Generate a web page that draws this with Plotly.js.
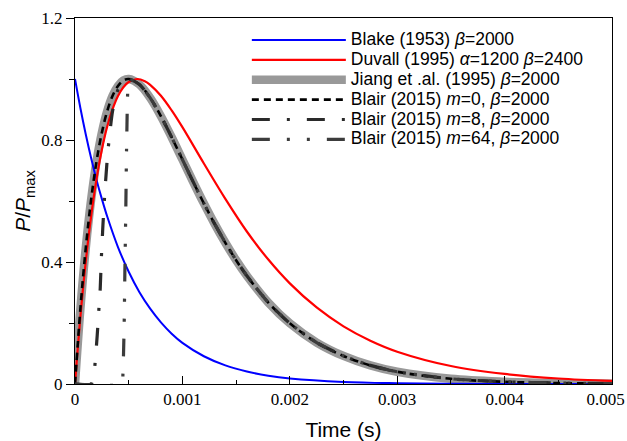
<!DOCTYPE html>
<html>
<head>
<meta charset="utf-8">
<script src="https://cdn.plot.ly/plotly-3.0.1.min.js"></script>
<style>html,body{margin:0;padding:0;background:#fff;}#chart{width:627px;height:441px;}</style>
</head>
<body>
<div id="chart"></div>
<script>
// ---- data (time in s, P/Pmax) ----
var blakeT = [0,0.00005,0.0001,0.00015,0.0002,0.00025,0.0003,0.0004,0.0005,0.0006,0.0007,0.0008,0.0009,0.001,0.0012,0.0014,0.0016,0.0018,0.002,0.0025,0.003,0.0035,0.004,0.0045,0.005];
var blakeP = [1,0.905,0.819,0.741,0.670,0.607,0.549,0.449,0.368,0.301,0.247,0.202,0.165,0.135,0.091,0.061,0.041,0.027,0.018,0.0067,0.0025,0.0009,0.0003,0.0001,0.00005];

var duvallT = [0,0.00005,0.0001,0.00015,0.0002,0.00025,0.0003,0.00035,0.0004,0.00045,0.0005,0.000578,0.00065,0.0007,0.0008,0.0009,0.001,0.0012,0.0014,0.0016,0.0018,0.002,0.00225,0.0025,0.00275,0.003,0.0035,0.004,0.0045,0.005];
var duvallP = [0,0.219,0.401,0.550,0.671,0.768,0.844,0.901,0.944,0.973,0.990,1.0,0.993,0.981,0.945,0.897,0.842,0.723,0.607,0.500,0.408,0.330,0.251,0.189,0.142,0.106,0.059,0.033,0.018,0.010];

var jiangRiseT = [0,0.00005,0.0001,0.00015,0.0002,0.00025,0.0003,0.00035,0.0004,0.00045,0.0005];
var jiangRiseP = [0,0.246,0.445,0.604,0.729,0.824,0.895,0.945,0.977,0.995,1];

var decayT = [0.0006,0.0007,0.0008,0.0009,0.001,0.0011,0.0012,0.0013,0.0014,0.0015,0.0016,0.0018,0.002,0.00225,0.0025,0.00275,0.003,0.0035,0.004,0.0045,0.005];
var decayP = [0.982,0.938,0.878,0.809,0.736,0.663,0.592,0.525,0.463,0.406,0.355,0.267,0.199,0.136,0.092,0.061,0.040,0.017,0.0073,0.0030,0.0012];

var m8RiseT = [0,0.00015,0.00017,0.000183,0.000207,0.00022,0.000235,0.000245,0.000254,0.00026,0.00028,0.000307,0.00035,0.0004,0.00045,0.0005];
var m8RiseP = [0,0,0.02,0.053,0.16,0.233,0.314,0.41,0.477,0.52,0.64,0.765,0.895,0.965,0.995,1];

var m64RiseT = [0,0.00044,0.000446,0.000452,0.000458,0.000464,0.000468,0.000474,0.00048,0.000484,0.000488,0.000494,0.0005];
var m64RiseP = [0,0,0.03,0.1,0.2,0.36,0.45,0.6,0.77,0.85,0.93,0.98,1];

var xTickVals = [0,0.001,0.002,0.003,0.004,0.005];
var xTickText = ['0','0.001','0.002','0.003','0.004','0.005\u00a0\u00a0\u00a0'];
var yTickVals = [0,0.4,0.8,1.2];
var yTickText = ['0','0.4','0.8','1.2'];

var names = [
  'Blake (1953) <i>β</i>=2000',
  'Duvall (1995) <i>α</i>=1200 <i>β</i>=2400',
  'Jiang et .al. (1995) <i>β</i>=2000',
  'Blair (2015) <i>m</i>=0, <i>β</i>=2000',
  'Blair (2015) <i>m</i>=8, <i>β</i>=2000',
  'Blair (2015) <i>m</i>=64, <i>β</i>=2000'
];
function big(s){ return '<span style="font-size:17.5px">' + s + '</span>'; }

var jiangT = jiangRiseT.concat(decayT), jiangP = jiangRiseP.concat(decayP);
var m8T = m8RiseT.concat(decayT), m8P = m8RiseP.concat(decayP);
var m64T = m64RiseT.concat(decayT), m64P = m64RiseP.concat(decayP);

var traces = [
  {x: jiangT, y: jiangP, name: big(names[2]), legendrank: 3, mode: 'lines',
   line: {color: '#999999', width: 8.5, shape: 'spline'}},
  {x: blakeT, y: blakeP, name: big(names[0]), legendrank: 1, mode: 'lines',
   line: {color: '#0000ff', width: 2, shape: 'spline'}},
  {x: duvallT, y: duvallP, name: big(names[1]), legendrank: 2, mode: 'lines',
   line: {color: '#ff0000', width: 2.2, shape: 'spline'}},
  {x: jiangT, y: jiangP, name: big(names[3]), legendrank: 4, mode: 'lines',
   line: {color: '#000000', width: 2.6, dash: '7px,5px', shape: 'spline'}},
  {x: m8T, y: m8P, name: big(names[4]), legendrank: 5, mode: 'lines',
   line: {color: '#2a2a2a', width: 3.2, dash: '18px,17px,3px,17px', shape: 'spline', smoothing: 0.6}},
  {x: m64T, y: m64P, name: big(names[5]), legendrank: 6, mode: 'lines',
   line: {color: '#3c3c3c', width: 3.2, dash: '18px,17px,3px,17px,3px,17px', shape: 'spline', smoothing: 0.6}}
];

var serif = 'Liberation Serif';
var sans = 'Liberation Sans';
var layout = {
  width: 627, height: 441,
  margin: {l: 75, r: 15, t: 18, b: 57},
  paper_bgcolor: '#fff', plot_bgcolor: '#fff',
  font: {family: serif, size: 17, color: '#000'},
  showlegend: true,
  legend: {x: 0.32, y: 0.981, xanchor: 'left', yanchor: 'top', bgcolor: 'rgba(0,0,0,0)',
           borderwidth: 0, itemwidth: 94, font: {family: sans, size: 13, color: '#000'}},
  xaxis: {
    range: [0, 0.005], tickmode: 'array', tickvals: xTickVals, ticktext: xTickText,
    ticks: 'inside', ticklen: 8, tickwidth: 1, tickcolor: '#000', ticklabeloverflow: 'allow',
    minor: {dtick: 0.0005, tick0: 0, ticks: 'inside', ticklen: 4, tickwidth: 1, tickcolor: '#000', showgrid: false},
    showline: true, linecolor: '#000', linewidth: 1, mirror: true,
    showgrid: false, zeroline: false,
    tickfont: {family: serif, size: 17, color: '#000'},
    title: {text: 'Time (s)', font: {family: sans, size: 21, color: '#000'}, standoff: 13}
  },
  yaxis: {
    range: [0, 1.2], tickmode: 'array', tickvals: yTickVals, ticktext: yTickText,
    ticks: 'outside', ticklen: 8, tickwidth: 1, tickcolor: '#000',
    minor: {dtick: 0.2, tick0: 0, ticks: 'outside', ticklen: 5, tickwidth: 1, tickcolor: '#000', showgrid: false},
    showline: true, linecolor: '#000', linewidth: 1, mirror: true,
    showgrid: false, zeroline: false,
    tickfont: {family: serif, size: 17, color: '#000'},
    title: {text: '<i>P</i>/<i>P</i><sub>max</sub>', font: {family: sans, size: 21, color: '#000'}, standoff: 4}
  }
};
Plotly.newPlot('chart', traces, layout, {staticPlot: true, displayModeBar: false});
</script>
</body>
</html>
